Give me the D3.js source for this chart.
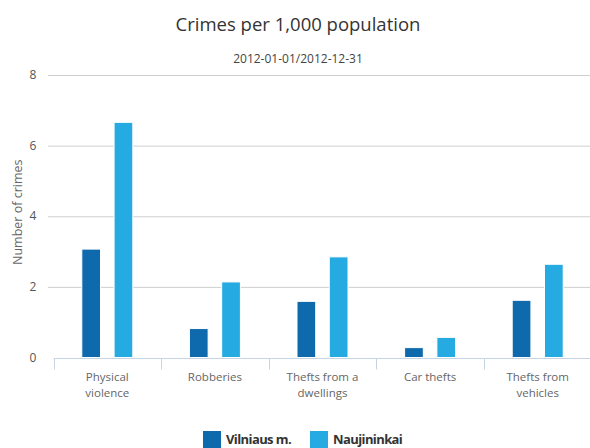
<!DOCTYPE html>
<html>
<head>
<meta charset="utf-8">
<script src="https://cdn.jsdelivr.net/npm/d3@7"></script>
<style>
    body { margin: 0; background: #fff; }
    svg { display: block; font-family: "Open Sans", sans-serif; }
</style>
</head>
<body>
<svg id="chart" width="590" height="448"></svg>
<script>
const categories = ["Physical violence", "Robberies", "Thefts from a dwellings", "Car thefts", "Thefts from vehicles"];
const labelLines = [["Physical", "violence"], ["Robberies"], ["Thefts from a", "dwellings"], ["Car thefts"], ["Thefts from", "vehicles"]];
const series = ["Vilniaus m.", "Naujininkai"];
const vilnius = [3.07, 0.82, 1.59, 0.28, 1.62];
const naujininkai = [6.66, 2.14, 2.85, 0.57, 2.64];
const yTicks = [0, 2, 4, 6, 8];
const colors = ["#0f6aad", "#25aae1"];

const svg = d3.select("#chart");

const plotLeft = 53.5, plotRight = 591.5, plotTop = 75, plotBottom = 357.5;

const x0 = d3.scaleBand().domain(categories).range([plotLeft, plotRight]);
const bw = x0.bandwidth();
const x1 = d3.scaleBand()
    .domain(series)
    .range([bw * 0.263, bw * 0.737])
    .paddingInner(0.42);
const y = d3.scaleLinear().domain([0, 8]).range([plotBottom, plotTop]);

// gridlines
svg.append("g")
    .selectAll("line")
    .data(yTicks.filter(t => t > 0))
    .join("line")
    .attr("x1", 48)
    .attr("x2", 590)
    .attr("y1", d => y(d) + 0.5)
    .attr("y2", d => y(d) + 0.5)
    .attr("stroke", "#cfcfcf")
    .attr("stroke-width", 1);

// y tick labels
svg.append("g")
    .selectAll("text")
    .data(yTicks)
    .join("text")
    .attr("x", 33)
    .attr("y", d => y(d) + 4)
    .attr("text-anchor", "middle")
    .attr("font-size", 12)
    .attr("fill", "#555")
    .text(d => d);

// y axis title
svg.append("text")
    .attr("transform", `translate(22,${(plotTop + plotBottom) / 2 - 4}) rotate(-90)`)
    .attr("text-anchor", "middle")
    .attr("font-size", 12.5)
    .attr("fill", "#666")
    .text("Number of crimes");

// bars
const rows = categories.map((c, i) => ({ category: c, values: [vilnius[i], naujininkai[i]] }));

const groups = svg.append("g")
    .selectAll("g")
    .data(rows)
    .join("g")
    .attr("transform", d => `translate(${x0(d.category)},0)`);

groups.selectAll("rect")
    .data(d => d.values.map((v, j) => ({ series: series[j], value: v, j })))
    .join("rect")
    .attr("x", d => x1(d.series))
    .attr("width", x1.bandwidth())
    .attr("y", d => y(d.value))
    .attr("height", d => y(0) - y(d.value))
    .attr("fill", d => colors[d.j])
    .attr("stroke", "#fff")
    .attr("stroke-width", 1);

// x axis line and ticks
svg.append("line")
    .attr("x1", plotLeft)
    .attr("x2", 590)
    .attr("y1", plotBottom + 1)
    .attr("y2", plotBottom + 1)
    .attr("stroke", "#c6d4e4");

svg.append("g")
    .selectAll("line")
    .data(categories)
    .join("line")
    .attr("x1", d => Math.round(x0(d)) + 0.5)
    .attr("x2", d => Math.round(x0(d)) + 0.5)
    .attr("y1", plotBottom + 1)
    .attr("y2", plotBottom + 12)
    .attr("stroke", "#c6d4e4");

// x labels
const xl = svg.append("g")
    .selectAll("text")
    .data(categories)
    .join("text")
    .attr("x", d => x0(d) + bw / 2)
    .attr("y", 381)
    .attr("text-anchor", "middle")
    .attr("font-size", 11.5)
    .attr("fill", "#666");

xl.selectAll("tspan")
    .data((d, i) => labelLines[i])
    .join("tspan")
    .attr("x", function () { return d3.select(this.parentNode).attr("x"); })
    .attr("dy", (d, i) => i === 0 ? 0 : 16)
    .text(d => d);

// title and subtitle
svg.append("text")
    .attr("x", 298)
    .attr("y", 31)
    .attr("text-anchor", "middle")
    .attr("font-size", 18.5)
    .attr("fill", "#333")
    .text("Crimes per 1,000 population");

svg.append("text")
    .attr("x", 298)
    .attr("y", 63)
    .attr("text-anchor", "middle")
    .attr("font-size", 12)
    .attr("fill", "#444")
    .text("2012-01-01/2012-12-31");

// legend
const legendX = [203, 310];
const legend = svg.append("g")
    .selectAll("g")
    .data(series)
    .join("g")
    .attr("transform", (d, i) => `translate(${legendX[i]},431)`);

legend.append("rect")
    .attr("width", 18)
    .attr("height", 17)
    .attr("fill", (d, i) => colors[i]);

legend.append("text")
    .attr("x", 23)
    .attr("y", 13)
    .attr("font-size", 13)
    .attr("font-weight", "bold")
    .attr("letter-spacing", -0.6)
    .attr("fill", "#333")
    .text(d => d);
</script>
</body>
</html>
